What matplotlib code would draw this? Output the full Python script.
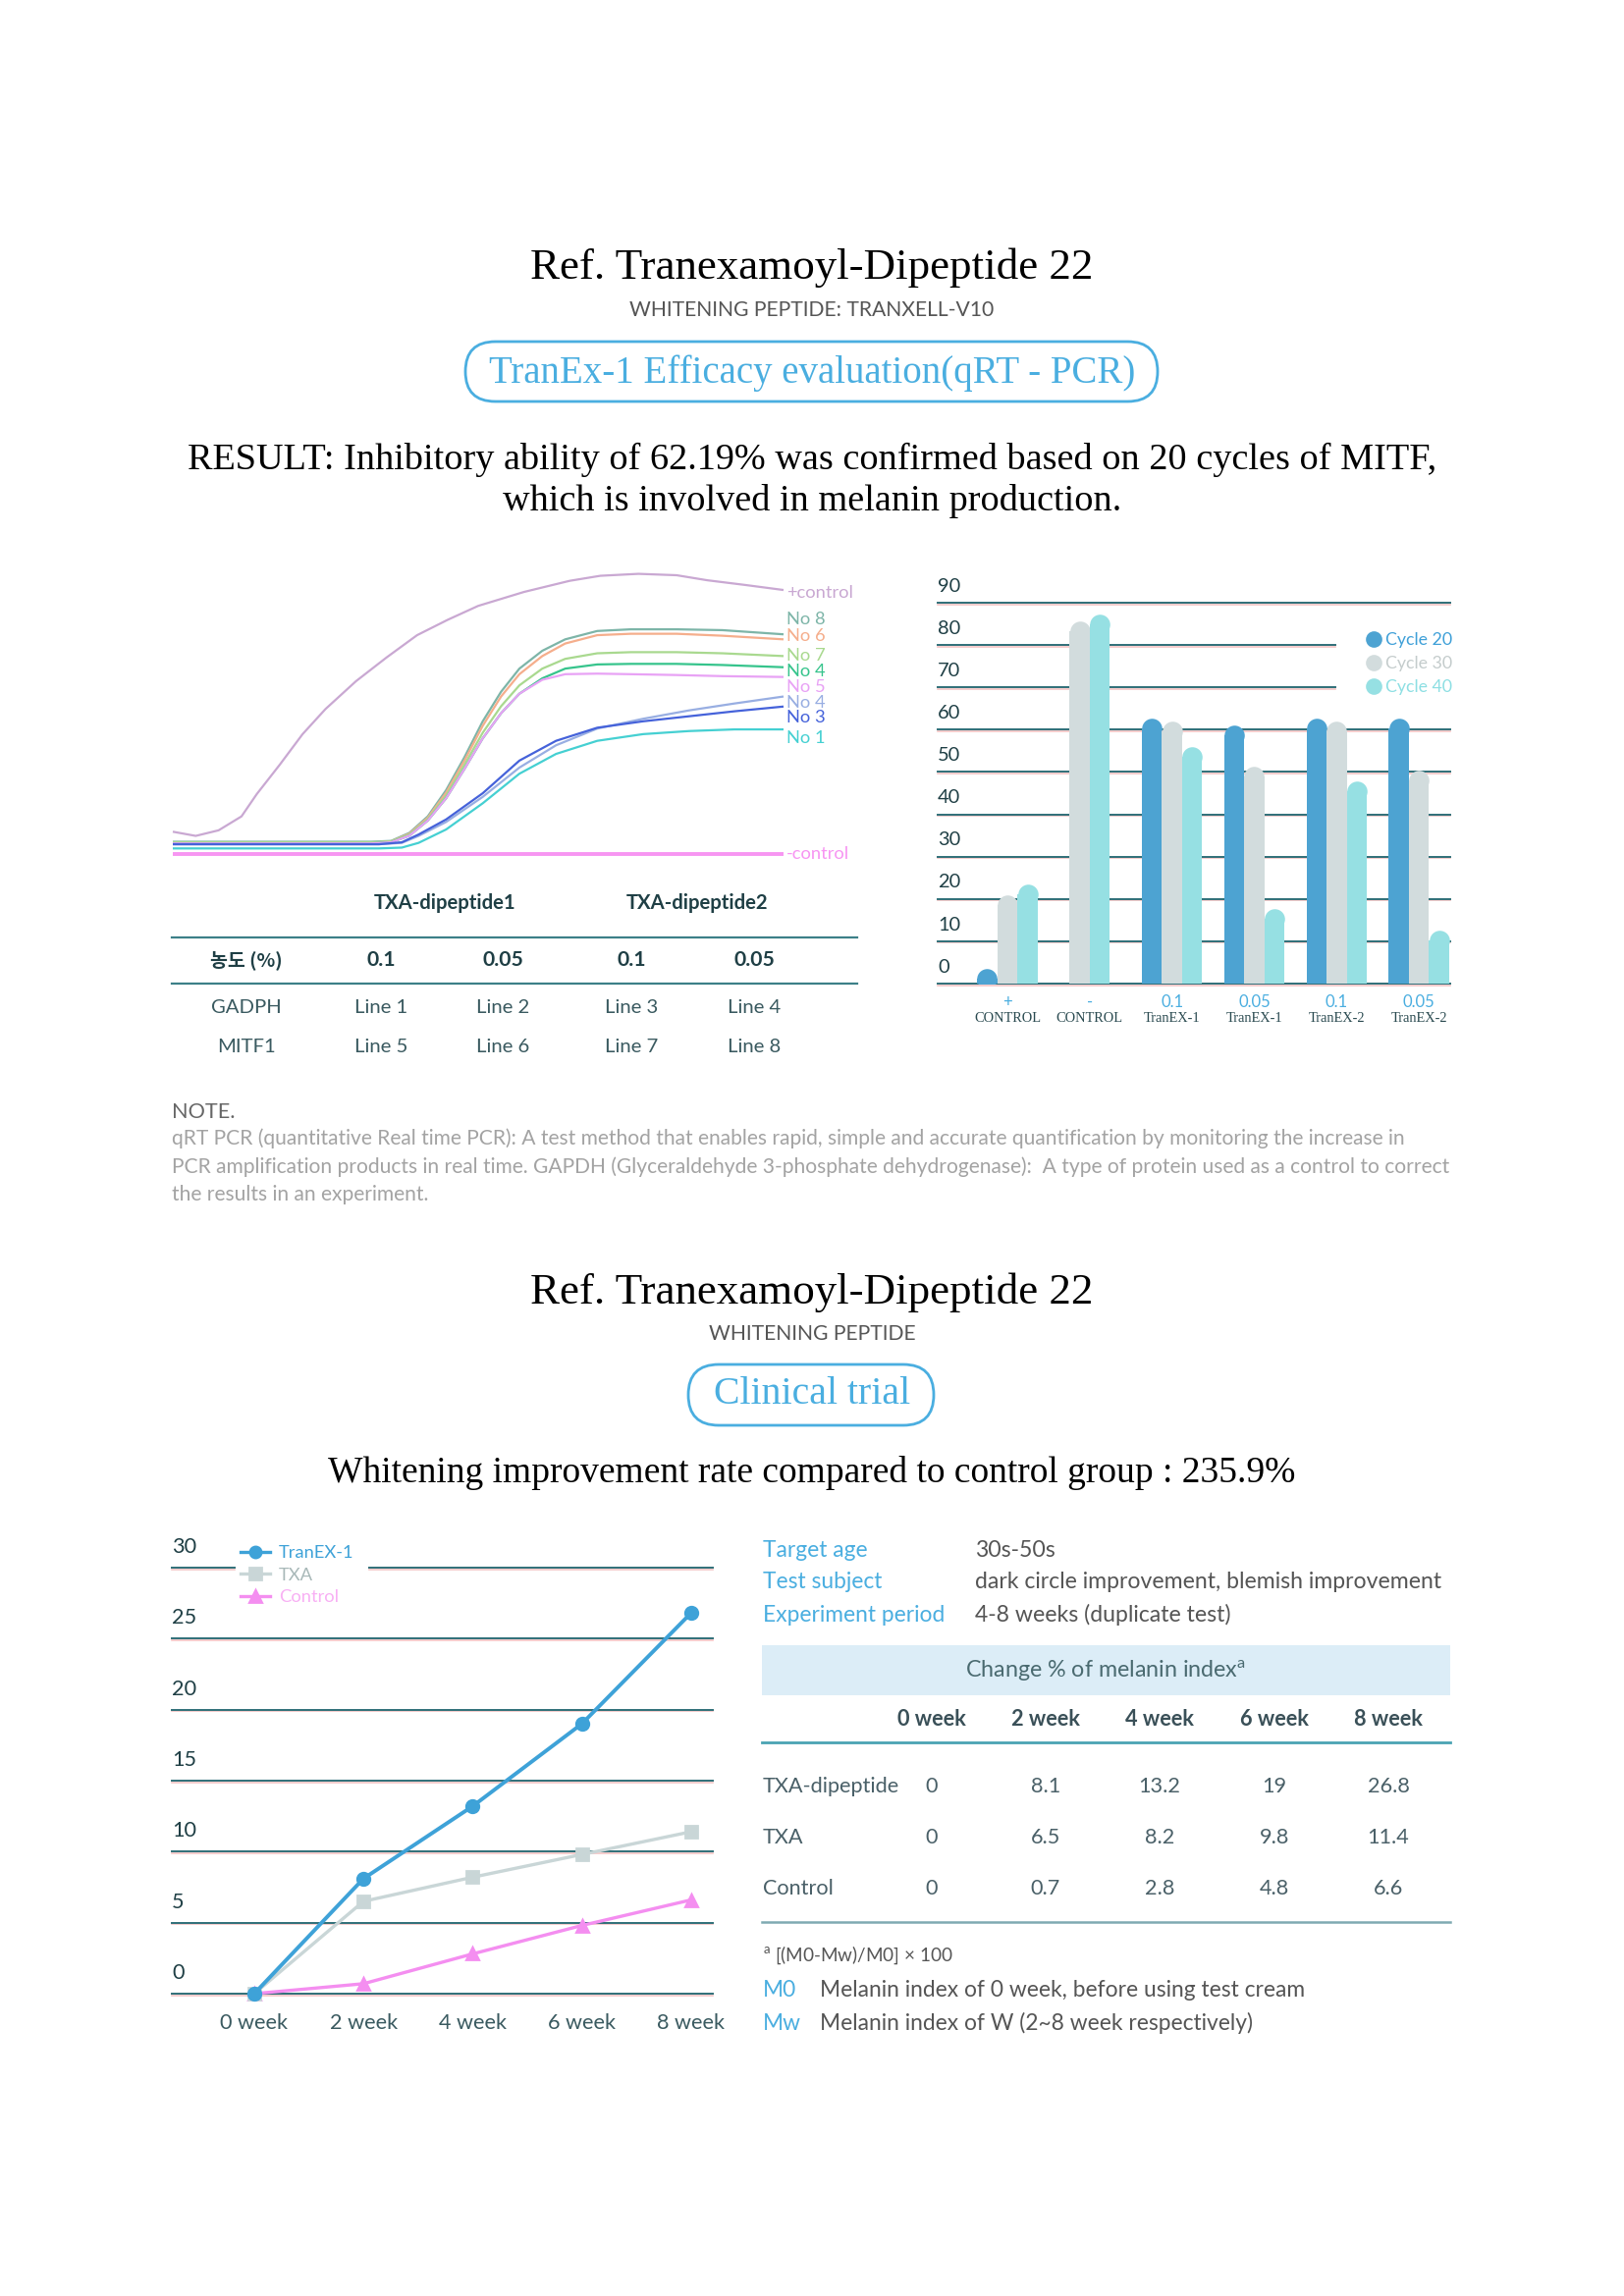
import numpy as np
import matplotlib.pyplot as plt
from matplotlib.patches import FancyBboxPatch, Rectangle
from matplotlib.lines import Line2D

W, H, DPI = 1654, 2339, 200
SERIF = "Liberation Serif"
SANS = "Lato"

# ---- qRT-PCR amplification curves (cycle, RFU) ----
pos_ctrl_x = [0, 1.5, 3, 4.5, 5.5, 7, 8.5, 10, 12, 14, 16, 18, 20, 23, 26, 28, 30.5, 33, 35, 37.5, 40]
pos_ctrl_y = [8, 6.5, 8.5, 13.5, 21.5, 32, 43, 52, 62, 70.5, 78.5, 84, 89, 94, 98, 99.8, 100.5, 100, 98.2, 96.5, 94.7]

late_x = [0, 13, 14.3, 15.5, 16.7, 17.9, 19.1, 20.3, 21.5, 22.7, 24.2, 25.7, 27.8, 30, 33, 36, 40]
no8_y = [4.4, 4.4, 4.7, 7.6, 13.5, 22.9, 34.7, 47.6, 58.2, 66.5, 72.9, 77, 80, 80.6, 80.6, 80.3, 78.8]
no6_y = [4.0, 4.0, 4.5, 7.3, 13, 22, 33.5, 46, 56.5, 64.5, 71, 75.5, 78.5, 79, 79, 78.3, 77]
no7_y = [4.2, 4.2, 4.5, 7, 12.5, 21, 32, 43.5, 53, 60.5, 66.5, 70, 72, 72.4, 72.4, 72, 71]
no4a_y = [3.8, 3.8, 4.2, 6.6, 12, 20, 30.5, 41.5, 50.5, 57.5, 63, 66.5, 68, 68.2, 68.2, 67.8, 67]
no5_y = [3.8, 3.8, 4.2, 6.6, 12, 20, 30.5, 41.5, 50.5, 57.5, 62.5, 64.5, 64.7, 64.5, 64.2, 63.8, 63.5]

slow_x = [0, 13.5, 15, 16.1, 17.9, 20.3, 22.7, 25.1, 27.8, 30.8, 33.8, 36.8, 40]
no4b_y = [3.5, 3.5, 4, 6.5, 11.5, 20.5, 31, 39, 45, 48.5, 51.5, 54, 56.5]
no3_y = [3.5, 3.5, 4.2, 7, 12.4, 21.8, 33.5, 40.6, 45.3, 47.6, 49.4, 51.2, 52.9]
no1_y = [2, 2, 2.3, 4, 8.8, 18.2, 28.8, 35.9, 40.6, 43, 44.1, 44.7, 44.7]

neg_ctrl_x = [0, 40]
neg_ctrl_y = [0, 0]

curve_labels = ["+control", "No 8", "No 6", "No 7", "No 4", "No 5", "No 4", "No 3", "No 1", "-control"]

# ---- qRT-PCR setup table ----
conc_groups = ["TXA-dipeptide1", "TXA-dipeptide2"]
conc_vals = ["0.1", "0.05", "0.1", "0.05"]
gene_rows = ["GADPH", "MITF1"]
gadph_lines = ["Line 1", "Line 2", "Line 3", "Line 4"]
mitf_lines = ["Line 5", "Line 6", "Line 7", "Line 8"]

# ---- bar chart ----
bar_top = ["+", "-", "0.1", "0.05", "0.1", "0.05"]
bar_bottom = ["CONTROL", "CONTROL", "TranEX-1", "TranEX-1", "TranEX-2", "TranEX-2"]
cycle20 = [3.6, np.nan, 62.7, 61.1, 62.7, 62.7]
cycle30 = [20.9, 85.6, 62.1, 51.4, 62.1, 50.3]
cycle40 = [23.5, 87.3, 55.9, 17.7, 47.9, 12.6]
cycle_names = ["Cycle 20", "Cycle 30", "Cycle 40"]

# ---- clinical trial ----
weeks = [0, 2, 4, 6, 8]
week_labels = ["0 week", "2 week", "4 week", "6 week", "8 week"]
txa_dipeptide = [0, 8.1, 13.2, 19, 26.8]
txa = [0, 6.5, 8.2, 9.8, 11.4]
control = [0, 0.7, 2.8, 4.8, 6.6]
series_names = ["TXA-dipeptide", "TXA", "Control"]
legend_names = ["TranEX-1", "TXA", "Control"]

info_keys = ["Target age", "Test subject", "Experiment period"]
info_vals = ["30s-50s", "dark circle improvement, blemish improvement", "4-8 weeks (duplicate test)"]

note_lines = [
    "qRT PCR (quantitative Real time PCR): A test method that enables rapid, simple and accurate quantification by monitoring the increase in",
    "PCR amplification products in real time. GAPDH (Glyceraldehyde 3-phosphate dehydrogenase):  A type of protein used as a control to correct",
    "the results in an experiment.",
]

BLUE = "#4aaee0"
TEAL = "#2f6f78"
DARK = "#1f3f45"

fig = plt.figure(figsize=(W / DPI, H / DPI), dpi=DPI)
fig.patch.set_facecolor("white")


def fx(x):
    return x / W


def fy(y):
    return 1 - y / H


def txt(x, y, s, **kw):
    kw.setdefault("ha", "left")
    kw.setdefault("va", "center")
    kw.setdefault("family", SANS)
    fig.text(fx(x), fy(y), s, **kw)


def axes_px(l, t, r, b):
    ax = fig.add_axes([fx(l), fy(b), (r - l) / W, (b - t) / H])
    ax.set_axis_off()
    return ax


def hline(x0, x1, y, **kw):
    fig.add_artist(Line2D([fx(x0), fx(x1)], [fy(y), fy(y)], transform=fig.transFigure, **kw))


def pill(x0, y0, x1, y1, color):
    p = FancyBboxPatch((x0 / DPI, (H - y1) / DPI), (x1 - x0) / DPI, (y1 - y0) / DPI,
                       boxstyle="round,pad=0,rounding_size=%f" % ((y1 - y0) / 2 / DPI),
                       transform=fig.dpi_scale_trans, fc="none", ec=color, lw=1.0)
    fig.add_artist(p)


def grid_line(ax, y0, a, b, lift):
    # thin teal rule with the faint pink print shadow under it
    tr = ax.get_yaxis_transform()
    ax.plot([a, b], [y0 - lift, y0 - lift], color="#f4c4c4", lw=0.6, transform=tr, clip_on=False, zorder=0)
    ax.plot([a, b], [y0, y0], color=TEAL, lw=0.7, transform=tr, clip_on=False, zorder=1)


# ================= section 1 headers =================
txt(827, 273, "Ref. Tranexamoyl-Dipeptide 22", ha="center", family=SERIF, fontsize=16.2, color="black")
txt(827, 316, "WHITENING PEPTIDE: TRANXELL-V10", ha="center", fontsize=7.6, color="#555555")
pill(474, 348, 1179, 409, BLUE)
txt(827, 380, "TranEx-1 Efficacy evaluation(qRT - PCR)", ha="center", family=SERIF, fontsize=14, color=BLUE)
txt(827, 468, "RESULT: Inhibitory ability of 62.19% was confirmed based on 20 cycles of MITF,",
    ha="center", family=SERIF, fontsize=13.75, color="black")
txt(827, 511, "which is involved in melanin production.", ha="center", family=SERIF, fontsize=13.75, color="black")

# ================= amplification curves =================
ax1 = axes_px(176, 586, 798, 870)
ax1.set_xlim(0, 40)
ax1.set_ylim(0, 100)
curves = [
    (pos_ctrl_x, pos_ctrl_y, "#c9a8d2", 0.8),
    (late_x, no8_y, "#7db5a8", 0.8),
    (late_x, no6_y, "#f5ae8c", 0.8),
    (late_x, no7_y, "#a9d98f", 0.8),
    (late_x, no4a_y, "#36c48c", 0.8),
    (late_x, no5_y, "#e8a2f5", 0.8),
    (slow_x, no4b_y, "#98aee2", 0.8),
    (slow_x, no3_y, "#4562da", 0.8),
    (slow_x, no1_y, "#45d0d2", 0.8),
    (neg_ctrl_x, neg_ctrl_y, "#f795f2", 1.4),
]
label_pos = [93.7, 84.2, 78.2, 71.2, 65.6, 60.0, 54.4, 48.8, 41.5, 0]
for (cx, cy, col, lw), name, ly in zip(curves, curve_labels, label_pos):
    ax1.plot(cx, cy, color=col, lw=lw, clip_on=False, solid_capstyle="butt", solid_joinstyle="round")
    ax1.text(40.2, ly, name, color=col, fontsize=6.6, family=SANS, va="center", ha="left", clip_on=False)

# setup table
col_x = [251, 388, 512, 643, 768]
for name, cx in zip(conc_groups, [453, 710]):
    txt(cx, 920, name, ha="center", fontsize=7.3, fontweight="bold", color=DARK)
hline(175, 873, 955, color="#3d8088", lw=0.8)
hline(175, 873, 1002, color="#3d8088", lw=0.8)
txt(col_x[0], 978, "농도 (%)", ha="center", family=["Noto Sans CJK KR", "DejaVu Sans"], fontsize=7,
    fontweight="bold", color=DARK)
for v, cx in zip(conc_vals, col_x[1:]):
    txt(cx, 978, v, ha="center", fontsize=7.6, fontweight="bold", color=DARK)
for row_name, row_vals, yy in zip(gene_rows, [gadph_lines, mitf_lines], [1026, 1066]):
    txt(col_x[0], yy, row_name, ha="center", fontsize=7.3, color="#3a5a60")
    for v, cx in zip(row_vals, col_x[1:]):
        txt(cx, yy, v, ha="center", fontsize=7.3, color="#3a5a60")

# ================= bar chart =================
ax2 = axes_px(955, 614, 1477, 1002)
ax2.set_xlim(-0.847, 5.38)
ax2.set_ylim(0, 90)
for v in range(0, 100, 10):
    x_end = 0.776 if v in (70, 80) else 1.0
    grid_line(ax2, v, 0, x_end, 0.35)
    ax2.annotate(str(v), xy=(0, v), xycoords=ax2.get_yaxis_transform(), xytext=(0, 3),
                 textcoords="offset points", ha="left", va="bottom", fontsize=7.2, family=SANS, color=DARK)

bw = 0.245
bar_px = bw / (5.38 + 0.847) * 522
r_data = bar_px / 2 * 90 / 388
bar_cols = ["#4da3d2", "#d2dcdd", "#96e0e3"]
series = [cycle20, cycle30, cycle40]
for gi in range(len(bar_top)):
    present = [si for si in range(3) if not np.isnan(series[si][gi])]
    offs = (np.arange(len(present)) - (len(present) - 1) / 2) * bw
    for si, off in zip(present, offs):
        v = series[si][gi]
        h = max(v - r_data, 0)
        ax2.bar(gi + off, h, width=bw, color=bar_cols[si], lw=0, zorder=3)
        ax2.scatter([gi + off], [h], s=(bar_px * 72 / DPI) ** 2, color=bar_cols[si], lw=0, zorder=3)
    ax2.text(gi, -4.4, bar_top[gi], ha="center", va="center", fontsize=6, family=SANS, color=BLUE,
             clip_on=False)
    ax2.text(gi, -8.2, bar_bottom[gi], ha="center", va="center", fontsize=5.2, family=SERIF, color="#2a4a50",
             clip_on=False)

handles = [Line2D([], [], marker="o", ls="", color=c, markersize=5) for c in bar_cols]
ax2.legend(handles, cycle_names, loc="upper left", bbox_to_anchor=(fx(1383), fy(637)),
           bbox_transform=fig.transFigure, frameon=False, handletextpad=0.2, labelspacing=0.45,
           prop={"family": SANS, "size": 6.4}, labelcolor=["#3fa0d8", "#c4cccc", "#8ddfe3"],
           borderaxespad=0, handlelength=1)

# ================= note =================
txt(175, 1133, "NOTE.", fontsize=7.8, color="#666666")
for i, line in enumerate(note_lines):
    txt(175, 1160 + i * 28.5, line, fontsize=7.58, color="#a3a3a3")

# ================= section 2 headers =================
txt(827, 1317, "Ref. Tranexamoyl-Dipeptide 22", ha="center", family=SERIF, fontsize=16.2, color="black")
txt(827, 1359, "WHITENING PEPTIDE", ha="center", fontsize=7.6, color="#555555")
pill(701, 1390, 951, 1452, BLUE)
txt(827, 1421, "Clinical trial", ha="center", family=SERIF, fontsize=14.3, color=BLUE)
txt(827, 1500, "Whitening improvement rate compared to control group : 235.9%", ha="center", family=SERIF,
    fontsize=13.5, color="black")

# ================= line chart =================
ax3 = axes_px(175, 1597, 726, 2031)
ax3.set_xlim(-1.51, 8.4)
ax3.set_ylim(0, 30)
for v in range(0, 35, 5):
    segs = [(0, (239 - 175) / 551), ((376 - 175) / 551, 1)] if v == 30 else [(0, 1)]
    for a, b in segs:
        grid_line(ax3, v, a, b, 0.12)
    ax3.annotate(str(v), xy=(0, v), xycoords=ax3.get_yaxis_transform(), xytext=(0, 4),
                 textcoords="offset points", ha="left", va="bottom", fontsize=7.8, family=SANS, color=DARK)
line_cols = ["#3ea2d8", "#c9d6d7", "#f48ef0"]
line_marks = ["o", "s", "^"]
ax3.plot(weeks, control, color=line_cols[2], marker="^", ms=4.5, lw=1.2, clip_on=False, zorder=3)
ax3.plot(weeks, txa, color=line_cols[1], marker="s", ms=4, lw=1.2, clip_on=False, zorder=4)
ax3.plot(weeks, txa_dipeptide, color=line_cols[0], marker="o", ms=4.5, lw=1.4, clip_on=False, zorder=5)
for w, lab in zip(weeks, week_labels):
    ax3.text(w, -2.1, lab, ha="center", va="center", fontsize=7.8, family=SANS, color="#3a5a60", clip_on=False)
lh = [Line2D([], [], color=c, marker=m, ms=4, lw=1.2) for c, m in zip(line_cols, line_marks)]
ax3.legend(lh, legend_names, loc="upper left", bbox_to_anchor=(fx(238), fy(1567)),
           bbox_transform=fig.transFigure, frameon=False, handlelength=1.6, handletextpad=0.5,
           labelspacing=0.35, borderaxespad=0, prop={"family": SANS, "size": 6.6},
           labelcolor=["#3ea2d8", "#a8b8b8", "#f8b0f4"])

# ================= right info + table =================
for i, (k, v) in enumerate(zip(info_keys, info_vals)):
    yy = 1579 + i * 33
    txt(777, yy, k, fontsize=8.2, color=BLUE)
    txt(993, yy, v, fontsize=8.3, color="#555555")

fig.add_artist(Rectangle((fx(776), fy(1727)), (1477 - 776) / W, (1727 - 1676) / H, transform=fig.transFigure,
                         fc="#dcedf7", ec="none"))
txt(1126, 1702, r"Change % of melanin index$^{\mathregular{a}}$", ha="center", fontsize=8.4, color="#4a6a70")
week_x = [949, 1065, 1181, 1298, 1414]
for lab, cx in zip(week_labels, week_x):
    txt(cx, 1751, lab, ha="center", fontsize=7.8, fontweight="bold", color="#3a5058")
hline(776, 1477, 1775, color="#4aa3b3", lw=1.0)
for name, vals, yy in zip(series_names, [txa_dipeptide, txa, control], [1820, 1872, 1924]):
    txt(777, yy, name, fontsize=7.8, color="#4a6068")
    for v, cx in zip(vals, week_x):
        txt(cx, yy, f"{v:g}", ha="center", fontsize=7.8, color="#4a6068")
hline(776, 1477, 1958, color="#7faab2", lw=0.9)

txt(777, 1992, r"$^{\mathregular{a}}$ [(M0-Mw)/M0] × 100", fontsize=6.8, color="#555555")
txt(777, 2028, "M0", fontsize=8.2, color=BLUE)
txt(835, 2028, "Melanin index of 0 week, before using test cream", fontsize=8.2, color="#555555")
txt(777, 2061, "Mw", fontsize=8.2, color=BLUE)
txt(835, 2061, "Melanin index of W (2~8 week respectively)", fontsize=8.2, color="#555555")

fig.savefig("out.png", dpi=DPI, facecolor="white")
